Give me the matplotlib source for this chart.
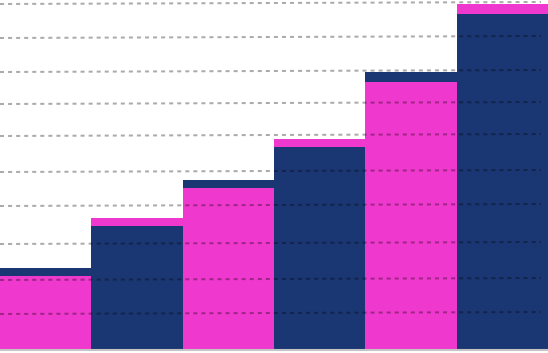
import matplotlib

matplotlib.use('Agg')
import matplotlib.pyplot as plt
import numpy as np

# wartosci slupkow (wysokosc calkowita) i "czapki" na gorze
categories = ['A', 'B', 'C', 'D', 'E', 'F']
totals = [82, 132, 170, 211, 278, 346]
caps = [8, 8, 8, 8, 10, 10]
grid_levels = [36, 70, 106, 144, 178, 214, 246, 278, 312, 346]

pink = '#EF38CD'
navy = '#1B3773'

fig = plt.figure(figsize=(5.48, 3.53), dpi=100)
ax = fig.add_axes([0, 3 / 353, 1, 350 / 353])

x = np.arange(len(categories))
base = [t - c for t, c in zip(totals, caps)]
body_colors = [pink if i % 2 == 0 else navy for i in range(len(x))]
cap_colors = [navy if i % 2 == 0 else pink for i in range(len(x))]

ax.bar(x, base, width=1.0, color=body_colors, linewidth=0)
ax.bar(x, caps, bottom=base, width=1.0, color=cap_colors, linewidth=0)

# przerywane linie siatki (lekko pochylone, rysowane na wierzchu)
x_end = 541 / 548 * len(x) - 0.5
for g in grid_levels:
    ax.plot([-0.5, x_end], [g, g + 2], color='black', alpha=0.33,
            lw=1.45, ls=(0, (2, 2)), zorder=5, solid_capstyle='butt',
            dash_capstyle='butt')

ax.axhline(0, color='#c4c4c4', lw=1.5, clip_on=False, zorder=6)

ax.set_xlim(-0.5, len(x) - 0.5)
ax.set_ylim(0, 350)
ax.axis('off')

fig.savefig('out.png', dpi=100)
plt.close(fig)
